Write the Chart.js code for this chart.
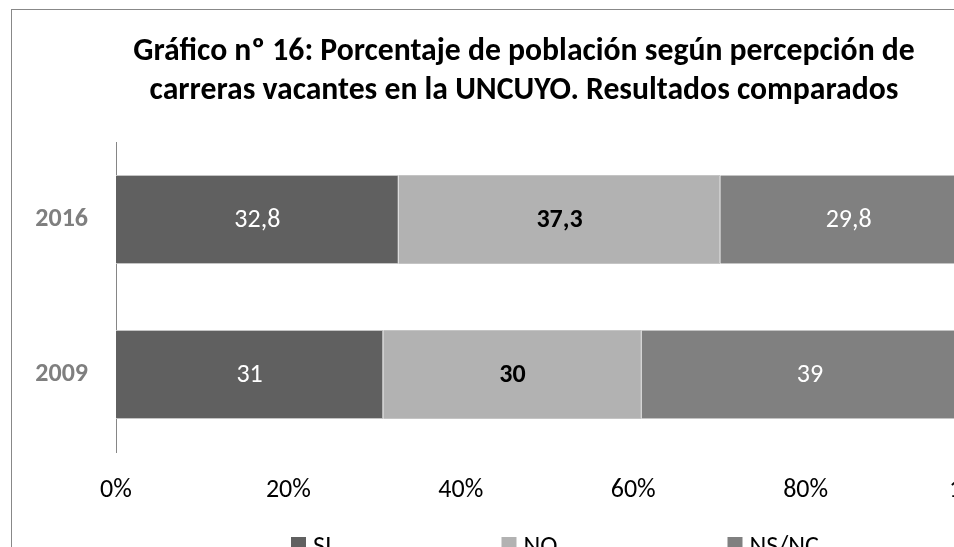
<!DOCTYPE html>
<html>
<head>
<meta charset="utf-8">
<script src="https://cdn.jsdelivr.net/npm/chart.js@4"></script>
<style>
  html, body { margin: 0; padding: 0; background: #fff; overflow: hidden; width: 954px; height: 547px; }
  #wrap { position: absolute; left: 11px; top: 9px; width: 1026px; height: 590px; border: 1px solid #888; }
</style>
</head>
<body>
<div id="wrap"><canvas id="chart"></canvas></div>
<script>
const categories = ['2016', '2009']
const seriesNames = ['SI', 'NO', 'NS/NC']
const siValues = [32.8, 31]
const noValues = [37.3, 30]
const nsncValues = [29.8, 39]
const tickValues = [0, 20, 40, 60, 80, 100]
const titleLines = [
  'Gráfico nº 16: Porcentaje de población según percepción de',
  'carreras vacantes en la UNCUYO. Resultados comparados'
]

const FONT = 'Calibri, Carlito, Lato, sans-serif'
const colors = ['#606060', '#b2b2b2', '#808080']
const labelColors = ['#ffffff', '#000000', '#ffffff']
const labelWeights = ['normal', 'bold', 'normal']

Chart.defaults.font.family = FONT

// title, data labels and legend drawn on the canvas
const overlay = {
  id: 'overlay',
  afterDatasetsDraw(chart) {
    const ctx = chart.ctx
    ctx.save()
    ctx.textAlign = 'center'
    ctx.textBaseline = 'middle'
    chart.data.datasets.forEach((ds, i) => {
      const meta = chart.getDatasetMeta(i)
      ctx.fillStyle = labelColors[i]
      ctx.font = `${labelWeights[i]} 26px ${FONT}`
      meta.data.forEach((bar, j) => {
        const text = String(ds.data[j]).replace('.', ',')
        ctx.fillText(text, (bar.x + bar.base) / 2, bar.y + 1)
      })
    })
    ctx.restore()
  },
  afterDraw(chart) {
    const ctx = chart.ctx
    ctx.save()
    ctx.fillStyle = '#000'
    ctx.textAlign = 'center'
    ctx.textBaseline = 'alphabetic'
    // fit the first title line to the width it has in the original
    ctx.font = `bold 26px ${FONT}`
    const size = Math.min(34, 26 * 782 / ctx.measureText(titleLines[0]).width)
    ctx.font = `bold ${size.toFixed(1)}px ${FONT}`
    ctx.fillText(titleLines[0], 512, 50)
    ctx.fillText(titleLines[1], 512, 89)

    // legend
    ctx.font = `26px ${FONT}`
    ctx.textAlign = 'left'
    ctx.textBaseline = 'middle'
    let x = 279
    seriesNames.forEach((name, i) => {
      ctx.fillStyle = colors[i]
      ctx.fillRect(x, 527, 15, 15)
      ctx.fillStyle = '#000'
      ctx.fillText(name, x + 22, 537)
      x += 22 + ctx.measureText(name).width + 170
    })
    ctx.restore()
  }
}

new Chart(document.getElementById('chart'), {
  type: 'bar',
  data: {
    labels: categories,
    datasets: [
      { label: seriesNames[0], data: siValues, backgroundColor: colors[0] },
      { label: seriesNames[1], data: noValues, backgroundColor: colors[1] },
      { label: seriesNames[2], data: nsncValues, backgroundColor: colors[2] }
    ].map((d) => ({ ...d, borderColor: '#c4c4c4', borderWidth: 1, categoryPercentage: 1, barPercentage: 0.575 }))
  },
  options: {
    indexAxis: 'y',
    responsive: true,
    maintainAspectRatio: false,
    animation: false,
    layout: { padding: { top: 132, right: 60, bottom: 88, left: 0 } },
    plugins: {
      legend: { display: false },
      title: { display: false },
      tooltip: { enabled: false }
    },
    scales: {
      x: {
        stacked: true,
        min: 0,
        max: 100,
        afterBuildTicks: (scale) => { scale.ticks = tickValues.map((v) => ({ value: v })) },
        afterFit: (scale) => { scale.height = 60 },
        grid: { display: false, drawTicks: false },
        border: { display: false },
        ticks: { padding: 23, color: '#000', font: { size: 26 }, maxRotation: 0, callback: (v) => v + '%' }
      },
      y: {
        stacked: true,
        afterFit: (scale) => { scale.width = 104 },
        grid: { display: false, drawTicks: false },
        border: { display: true, color: '#868686', width: 1 },
        ticks: { padding: 28, color: '#7f7f7f', font: { size: 26, weight: 'bold' } }
      }
    }
  },
  plugins: [overlay]
})
</script>
</body>
</html>
